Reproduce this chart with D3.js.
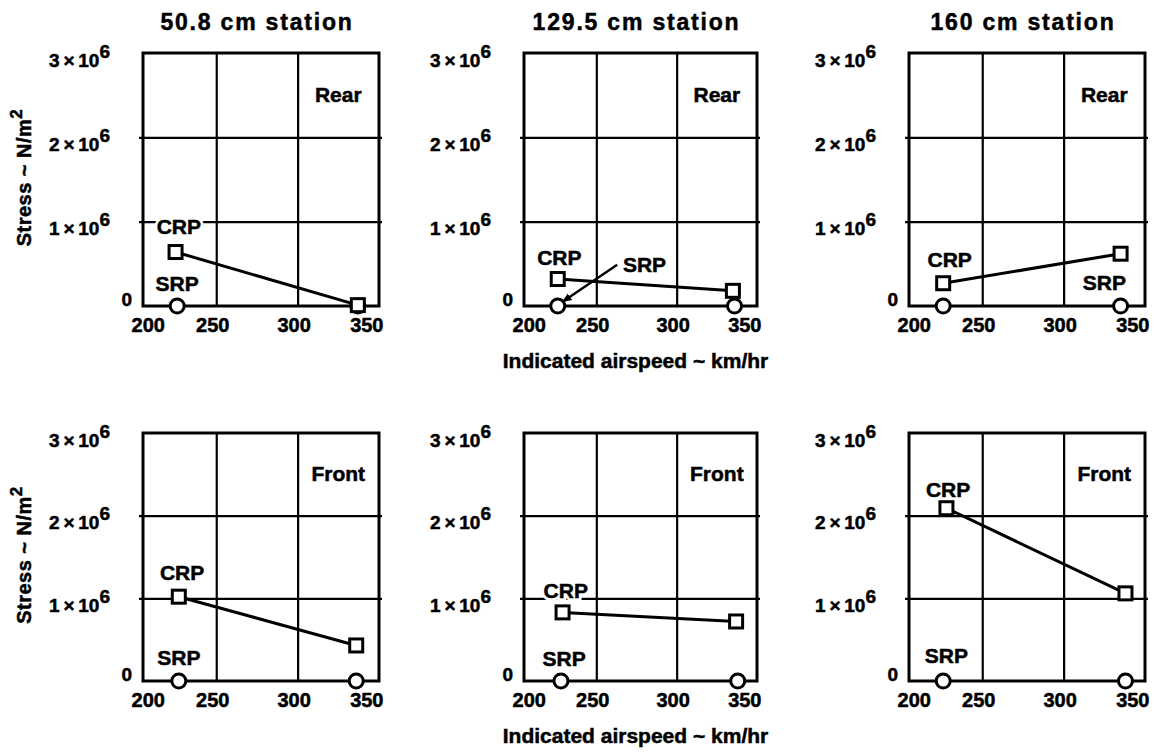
<!DOCTYPE html>
<html>
<head>
<meta charset="utf-8">
<script src="https://cdn.jsdelivr.net/npm/d3@7"></script>
<style>
    body { margin: 0; background: #fff; }
    svg { display: block; font-family: 'Liberation Sans', Arial, sans-serif; font-weight: bold; }
    text.heavy { stroke: #000; stroke-width: 0.5px; }
</style>
</head>
<body>
<svg id="chart" width="1174" height="754"></svg>
<script>
// DATA
const stations = ['50.8 cm station', '129.5 cm station', '160 cm station'];
const sides = ['Rear', 'Front'];
const xTicks = [200, 250, 300, 350];
const yTicks = [0, 1e6, 2e6, 3e6];

// one entry per panel, row by row (Rear row then Front row)
const crpSpeed = [[225, 337], [226, 335], [226, 335], [227, 336], [229, 337], [228, 338]];
const crpStress = [[0.64e6, 0.01e6], [0.32e6, 0.18e6], [0.27e6, 0.62e6], [1.02e6, 0.43e6], [0.83e6, 0.72e6], [2.09e6, 1.06e6]];
const srpSpeed = [[226, 337], [226, 336], [226, 335], [227, 336], [228, 338], [226, 338]];
const srpStress = [[0, 0], [0, 0], [0, 0], [0, 0], [0, 0], [0, 0]];

// label anchors in data units [speed, stress]
const crpLabel = [[227, 0.85e6], [227, 0.49e6], [230, 0.46e6], [229, 1.22e6], [231, 1.0e6], [229, 2.22e6]];
const srpLabel = [[226, 0.18e6], [280, 0.40e6], [325, 0.19e6], [227, 0.19e6], [230, 0.18e6], [228, 0.22e6]];
const srpArrow = [null, [[263, 0.49e6], [229, 0.05e6]], null, null, null, null];

const svg = d3.select('#chart');

// LAYOUT
const colLeft = [143, 524, 909];
const colRight = [379, 757, 1145];
const rowTop = [53, 433];
const rowBottom = [306, 681];

svg.append('defs').append('marker')
    .attr('id', 'arrow')
    .attr('viewBox', '0 0 10 10')
    .attr('refX', 9).attr('refY', 5)
    .attr('markerWidth', 10).attr('markerHeight', 10)
    .attr('markerUnits', 'userSpaceOnUse')
    .attr('orient', 'auto')
    .append('path')
    .attr('d', 'M0,1 L10,5 L0,9 z')
    .attr('fill', '#000');

sides.forEach((side, r) => {
    stations.forEach((station, c) => {
        const p = r * 3 + c;
        const w = colRight[c] - colLeft[c];
        const h = rowBottom[r] - rowTop[r];

        const g = svg.append('g')
            .attr('transform', `translate(${colLeft[c]},${rowTop[r]})`);

        const x = d3.scaleLinear().domain([205, 350]).range([0, w]);
        const y = d3.scaleLinear().domain([0, 3e6]).range([h, 0]);

        // GRID
        g.append('g')
            .call(d3.axisBottom(x).tickValues([250, 300]).tickSize(h).tickFormat(''))
            .call(s => s.select('.domain').remove())
            .selectAll('line').attr('stroke', '#000').attr('stroke-width', 2.2);
        g.append('g')
            .call(d3.axisLeft(y).tickValues([1e6, 2e6]).tickSize(-w - 3).tickFormat(''))
            .call(s => s.select('.domain').remove())
            .selectAll('line').attr('stroke', '#000').attr('stroke-width', 2.2).attr('x1', -4);

        // FRAME
        g.append('rect')
            .attr('width', w).attr('height', h)
            .attr('fill', 'none').attr('stroke', '#000').attr('stroke-width', 3);

        // Y AXIS LABELS
        const yAxis = g.append('g')
            .call(d3.axisLeft(y).tickValues(yTicks).tickSize(0).tickPadding(11)
                .tickFormat(d => d === 0 ? '0' : `${d / 1e6}\u2009\u00d7\u200910`));
        yAxis.select('.domain').remove();
        yAxis.selectAll('text')
            .attr('class', 'heavy')
            .attr('font-size', 19).attr('font-family', null).attr('fill', '#000')
            .each(function (d) {
                const t = d3.select(this);
                if (d === 0) {
                    t.attr('dy', -1);
                } else {
                    t.attr('dy', 13).attr('dx', -22);
                    t.append('tspan').attr('dy', -9).text('6');
                }
            });

        // X AXIS LABELS
        const xAxis = g.append('g')
            .attr('transform', `translate(0,${h})`)
            .call(d3.axisBottom(x).tickValues(xTicks).tickSize(0).tickPadding(12));
        xAxis.select('.domain').remove();
        xAxis.selectAll('text')
            .attr('class', 'heavy')
            .attr('font-size', 20).attr('font-family', null).attr('fill', '#000')
            .attr('dy', '0.71em')
            .each(function (d, i) {
                const t = d3.select(this);
                if (i === 0) t.attr('text-anchor', 'start').attr('x', -12 - x(200));
                else if (i === xTicks.length - 1) t.attr('text-anchor', 'end').attr('x', 4);
                else t.attr('dx', -4);
            });

        // TITLES
        if (r === 0) {
            svg.append('text')
                .attr('class', 'heavy')
                .attr('x', colLeft[c] + w / 2 - 4)
                .attr('y', 30)
                .attr('text-anchor', 'middle')
                .attr('font-size', 23)
                .attr('letter-spacing', 1.8)
                .text(station);
        }

        // SIDE LABEL
        g.append('text')
            .attr('class', 'heavy')
            .attr('x', x(325)).attr('y', y(2.42e6))
            .attr('text-anchor', 'middle').attr('font-size', 21)
            .text(side);

        // CRP LINE + MARKERS
        const crp = crpSpeed[p].map((s, i) => [s, crpStress[p][i]]);
        const srp = srpSpeed[p].map((s, i) => [s, srpStress[p][i]]);

        g.append('path')
            .datum(crp)
            .attr('d', d3.line().x(d => x(d[0])).y(d => y(d[1])))
            .attr('fill', 'none').attr('stroke', '#000').attr('stroke-width', 3);

        g.selectAll('circle.srp')
            .data(srp)
            .join('circle')
            .attr('class', 'srp')
            .attr('cx', d => x(d[0])).attr('cy', d => y(d[1]))
            .attr('r', 7)
            .attr('fill', '#fff').attr('stroke', '#000').attr('stroke-width', 3);

        g.selectAll('rect.crp')
            .data(crp)
            .join('rect')
            .attr('class', 'crp')
            .attr('x', d => x(d[0]) - 6.5).attr('y', d => y(d[1]) - 6.5)
            .attr('width', 13).attr('height', 13)
            .attr('fill', '#fff').attr('stroke', '#000').attr('stroke-width', 3);

        // LABELS (white halo breaks the gridlines behind them)
        [['CRP', crpLabel[p]], ['SRP', srpLabel[p]]].forEach(([txt, pos]) => {
            const lx = x(pos[0]), ly = y(pos[1]);
            g.append('text')
                .attr('x', lx).attr('y', ly)
                .attr('text-anchor', 'middle').attr('font-size', 21)
                .attr('stroke', '#fff').attr('stroke-width', 6)
                .text(txt);
            g.append('text')
                .attr('class', 'heavy')
                .attr('x', lx).attr('y', ly)
                .attr('text-anchor', 'middle').attr('font-size', 21)
                .text(txt);
        });

        if (srpArrow[p]) {
            const a = srpArrow[p];
            g.append('line')
                .attr('x1', x(a[0][0])).attr('y1', y(a[0][1]))
                .attr('x2', x(a[1][0])).attr('y2', y(a[1][1]))
                .attr('stroke', '#000').attr('stroke-width', 2.4)
                .attr('marker-end', 'url(#arrow)');
        }

        // AXIS TITLES
        if (c === 0) {
            svg.append('text')
                .attr('class', 'heavy')
                .attr('transform', `translate(31,${rowTop[r] + h / 2 - 2}) rotate(-90)`)
                .attr('text-anchor', 'middle')
                .attr('font-size', 20)
                .attr('letter-spacing', 0.5)
                .text('Stress ~ N/m')
                .append('tspan').attr('dy', -9).attr('font-size', 17).text('2');
        }
        if (c === 1) {
            svg.append('text')
                .attr('class', 'heavy')
                .attr('x', colLeft[c] + w / 2 - 5)
                .attr('y', rowBottom[r] + 62)
                .attr('text-anchor', 'middle')
                .attr('font-size', 21)
                .text('Indicated airspeed ~ km/hr');
        }
    });
});
</script>
</body>
</html>
